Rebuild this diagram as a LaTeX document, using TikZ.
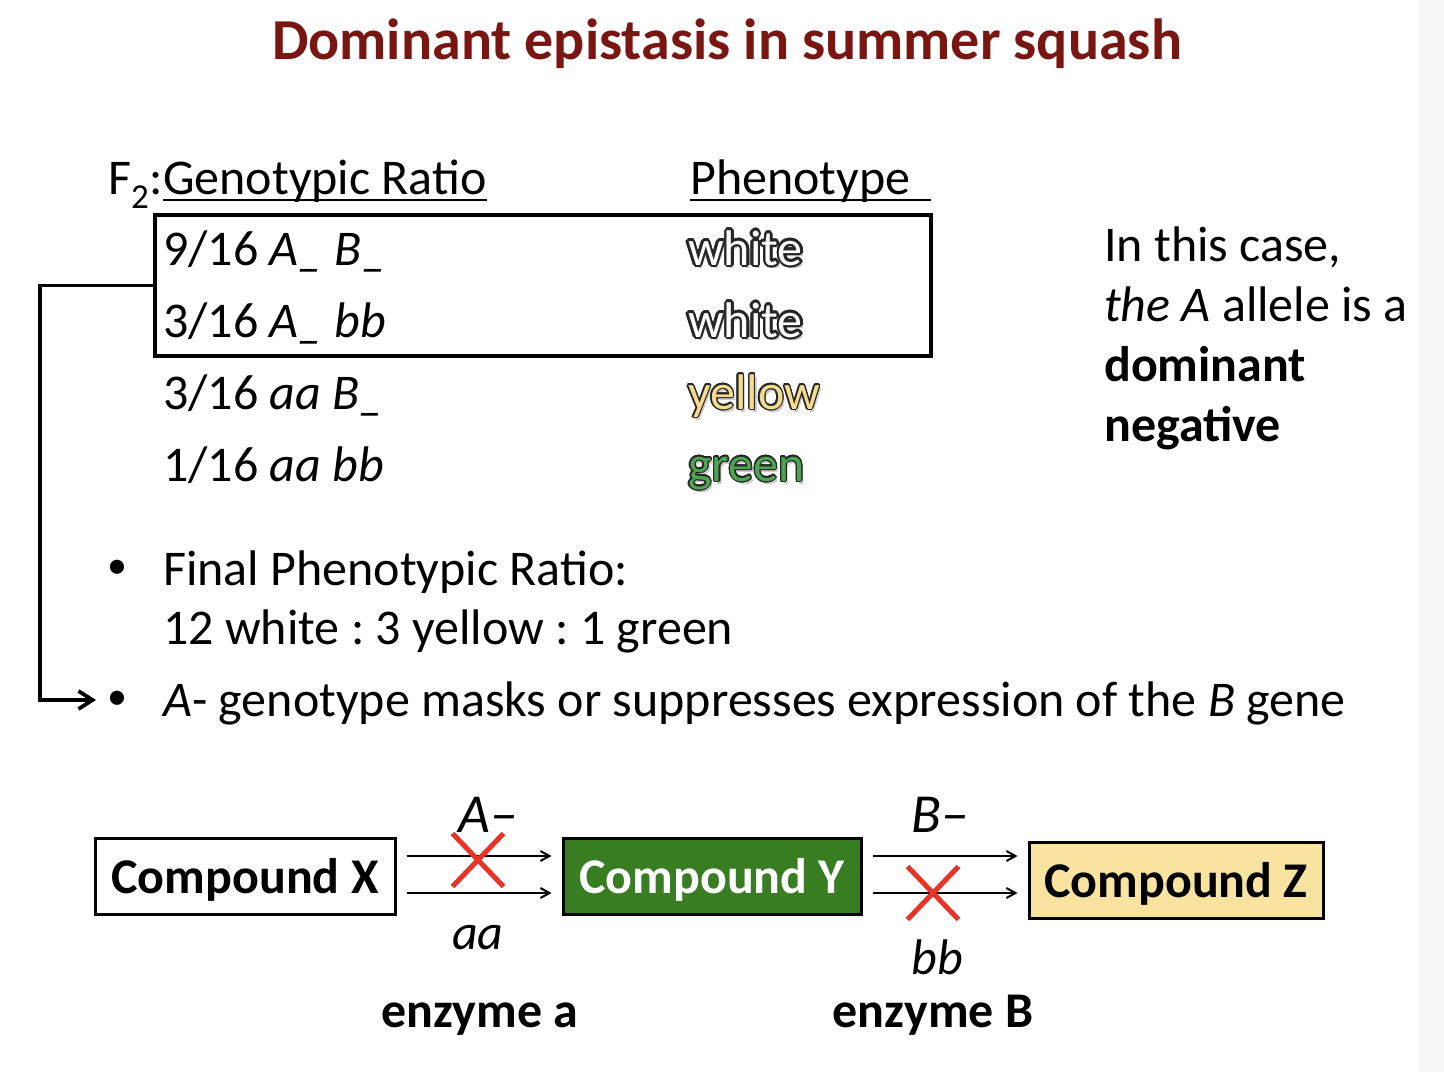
\documentclass[tikz,border=0pt]{standalone}
\usepackage{fontspec}
\setmainfont{Carlito}
\usetikzlibrary{positioning,calc,arrows.meta,shapes.misc}

\definecolor{titlered}{RGB}{122,22,18}
\definecolor{cmpgreen}{RGB}{56,125,34}
\definecolor{cmpyellow}{RGB}{249,227,160}
\definecolor{phyellow}{RGB}{245,220,140}
\definecolor{phgreen}{RGB}{76,165,80}
\definecolor{knockred}{RGB}{232,52,38}

% outlined phenotype word: shadow, dark rim, coloured face
\newcommand\phenoword[4]{%
  \node[pheno,text=black!20] at ($(#1)+(2.5,3)$) {#4};
  \foreach \ang in {0,22.5,...,337.5}
    \node[pheno,text=black!85] at ($(#1)+(\ang:#3)$) {#4};
  \node[pheno,text=#2] (#1w) at (#1) {#4};}

\frenchspacing

\begin{document}
\begin{tikzpicture}[x=1pt,y=-1pt,
    every node/.style={inner sep=0pt,font=\fontsize{50}{60}\selectfont},
    txt/.style={anchor=base west},
    pheno/.style={anchor=base west},
    dot/.style={font=\fontsize{40}{40}\selectfont},
    uline/.style={line width=2.5},
    cbox/.style={draw,line width=3,minimum width=300,minimum height=76,
      text depth=0pt,font=\fontsize{50}{60}\selectfont\bfseries},
    flow/.style={line width=2,-{Straight Barb[length=9,width=10]},
      shorten <=10,shorten >=10},
    knock/.style={cross out,draw=knockred,line width=5,
      minimum width=46,minimum height=48},
    gene/.style={anchor=base,font=\fontsize{55}{60}\selectfont\itshape}]
  \useasboundingbox (0,0) rectangle (1444,1072);
  \fill[black!3] (1418,0) rectangle (1444,1072);

  % title
  \node[font=\fontsize{58}{70}\selectfont\bfseries,text=titlered,anchor=base]
    (title) at (727,59) {Dominant epistasis in summer squash};

  % table heads
  \node[txt] (ftwo) at (108,194) {F\textsubscript{2}:};
  \node[txt] (gen) at (163,194) {Genotypic Ratio};
  \node[txt] (phen) at (690,194) {Phenotype};
  \draw[uline] ($(gen.base west)+(0,6)$) -- ($(gen.base east)+(0,6)$);
  \draw[uline] ($(phen.base west)+(0,6)$) -- ++(241,0);

  % genotype rows
  \node[txt] (r1) at (163,265) {9/16 \textit{A\_ B\_}};
  \node[txt] (r2) at (163,337) {3/16 \textit{A\_ bb}};
  \node[txt] (r3) at (163,409) {3/16 \textit{aa B\_}};
  \node[txt] (r4) at (163,481) {1/16 \textit{aa bb}};

  % phenotypes
  \coordinate (p1) at (688,265);
  \coordinate (p2) at (688,337);
  \coordinate (p3) at (688,409);
  \coordinate (p4) at (688,481);
  \phenoword{p1}{white}{2.4}{white}
  \phenoword{p2}{white}{2.4}{white}
  \phenoword{p3}{phyellow}{1.3}{yellow}
  \phenoword{p4}{phgreen}{1.3}{green}

  % box round the A_ rows
  \node[draw,line width=3.5,minimum width=776,minimum height=141]
    (wbox) at (543,285.5) {};

  % side note
  \node[txt] (n1) at (1104,261) {In this case,};
  \node[txt] (n2) at (1104,321) {\textit{the A} allele is a};
  \node[txt] (n3) at (1104,381) {\textbf{dominant}};
  \node[txt] (n4) at (1104,441) {\textbf{negative}};

  % bullets
  \node[dot] (b1) at (117,569) {•};
  \node[txt] (fin) at (163,585) {Final Phenotypic Ratio:};
  \node[txt] (fin2) at (163,644) {12 white : 3 yellow : 1 green};
  \node[dot] (b2) at (117,700) {•};
  \node[txt] (mask) at (163,716)
    {\textit{A}- genotype masks or suppresses expression of the \textit{B} gene};

  % connector to the second bullet
  \coordinate (tip) at (96,700);
  \draw[line width=3.8,-{Straight Barb[length=14,width=18]}]
    (wbox.west) -- ++(-113,0) |- (tip);

  % pathway
  \node[cbox,fill=white] (cx) at (245,876) {Compound X};
  \node[cbox,fill=cmpgreen,text=white,minimum width=298] (cy) at (712,876) {Compound Y};
  \node[cbox,fill=cmpyellow,minimum width=294] (cz) at (1176,880) {Compound Z};

  \draw[flow] ([yshift=20]cx.east) -- ([yshift=20]cy.west);
  \draw[flow] ([yshift=-17]cx.east) -- ([yshift=-17]cy.west);
  \draw[flow] ([yshift=20]cy.east) -- ([yshift=20]cy.east -| cz.west);
  \draw[flow] ([yshift=-17]cy.east) -- ([yshift=-17]cy.east -| cz.west);

  \node[knock] (xa) at (478,860) {};
  \node[knock] (xb) at (933,893) {};

  \node[gene] (la) at (488,832) {A–};
  \node[anchor=base] (laa) at (478,949) {\textit{aa}};
  \node[gene] (lb) at (940,832) {B–};
  \node[anchor=base] (lbb) at (937,974) {\textit{bb}};
  \node[anchor=base,font=\fontsize{50}{60}\selectfont\bfseries] (ea) at (480,1027) {enzyme a};
  \node[anchor=base,font=\fontsize{50}{60}\selectfont\bfseries] (eb) at (933,1027) {enzyme B};
\end{tikzpicture}
\end{document}
